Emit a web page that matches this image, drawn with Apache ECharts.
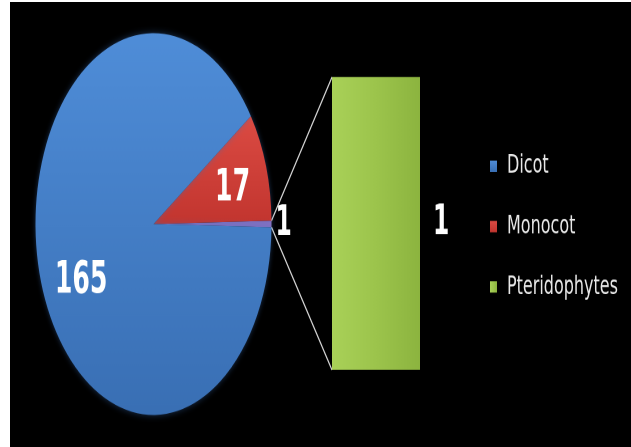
<!DOCTYPE html>
<html>
<head>
<meta charset="utf-8">
<script src="https://cdn.jsdelivr.net/npm/echarts@6/dist/echarts.min.js"></script>
<style>
  html, body { margin: 0; padding: 0; background: #fff; width: 631px; height: 447px; overflow: hidden; }
  #frame { position: absolute; left: 10px; top: 2px; width: 621px; height: 445px; background: #000; overflow: hidden; }
  /* the chart is laid out flat and then stretched vertically, giving the tall oval pie */
  #chart { position: absolute; left: 0; top: 0; width: 621px; height: 275px; transform: scaleY(1.618); transform-origin: 0 0; }
</style>
</head>
<body>
<div id="frame"><div id="chart"></div></div>
<script>
// plant groups and their species counts
const categories = ['Dicot', 'Monocot', 'Pteridophytes'];
const counts = [165, 17, 1];
// groups drawn as their own pie slices; the rest are pulled out into the bar
const pieGroups = ['Dicot', 'Monocot'];
const barGroups = ['Pteridophytes'];
const otherName = 'Other';

const valueOf = name => counts[categories.indexOf(name)];
const otherValue = barGroups.reduce((s, n) => s + valueOf(n), 0);
const total = counts.reduce((s, v) => s + v, 0);

const colors = {
  Dicot: { type: 'linear', x: 0, y: 0, x2: 0, y2: 1, colorStops: [
    { offset: 0, color: '#4f8dd8' }, { offset: 1, color: '#396fb4' } ] },
  Monocot: { type: 'linear', x: 0, y: 0, x2: 0, y2: 1, colorStops: [
    { offset: 0, color: '#db4b43' }, { offset: 1, color: '#c2352f' } ] },
  Other: '#8c70c4',
  Pteridophytes: { type: 'linear', x: 0, y: 0, x2: 1, y2: 0, colorStops: [
    { offset: 0, color: '#a9d158' }, { offset: 0.5, color: '#9cc44c' }, { offset: 1, color: '#8cb43f' } ] }
};

const numFont = "'DejaVu Sans Condensed', 'Liberation Sans', sans-serif";
const labelOffsets = { Dicot: [-13, 17], Monocot: [20, -3] };

// the pulled-out slice sits centred on 3 o'clock, the others follow counter-clockwise
const pieData = [{
  name: otherName, value: otherValue,
  itemStyle: { color: colors.Other },
  label: { position: 'outside', fontSize: 26, distanceToLabelLine: 4 },
  labelLine: { show: false, length: 0, length2: 0 }
}].concat(pieGroups.slice().reverse().map(n => ({
  name: n, value: valueOf(n),
  itemStyle: { color: colors[n] },
  label: { position: 'inside', fontSize: 28, offset: labelOffsets[n] }
})));

const barValues = barGroups.map(valueOf);

const chart = echarts.init(document.getElementById('chart'), null, { renderer: 'canvas', devicePixelRatio: 2 });

chart.setOption({
  animation: false,
  backgroundColor: 'transparent',
  legend: {
    data: categories,
    orient: 'vertical',
    left: 475, top: 88.5,
    itemWidth: 7, itemHeight: 7, itemGap: 21.3,
    icon: 'rect',
    selectedMode: false,
    textStyle: { color: '#e8e8e8', fontFamily: "'DejaVu Sans', sans-serif", fontSize: 16, lineHeight: 16, padding: [0, 0, 0, 5] }
  },
  grid: { left: 322, top: 46.4, width: 88, height: 181 },
  xAxis: { type: 'category', data: barGroups, show: false },
  yAxis: { type: 'value', min: 0, max: Math.max(...barValues), show: false },
  series: [{
    type: 'pie',
    name: 'Groups',
    center: [143.5, 137.2],
    radius: [0, 118],
    clockwise: false,
    startAngle: -(otherValue / total * 360) / 2,
    avoidLabelOverlap: false,
    label: { show: true, color: '#fff', fontFamily: numFont, fontWeight: 'bold', formatter: '{c}' },
    itemStyle: { shadowBlur: 5, shadowColor: 'rgba(60,110,180,0.45)' },
    emphasis: { disabled: true },
    data: pieData
  }, {
    type: 'bar',
    name: 'Pteridophytes',
    barWidth: '100%',
    itemStyle: { color: colors.Pteridophytes },
    label: { show: true, position: 'right', distance: 13, color: '#fff', fontFamily: numFont, fontWeight: 'bold', fontSize: 26 },
    emphasis: { disabled: true },
    data: barValues
  }]
});

// connector lines from the pulled-out slice to the bar's left corners
function drawConnectors() {
  const model = chart.getModel();
  const pd = model.getSeriesByIndex(0).getData();
  const sl = pd.getItemLayout(pd.indexOfName(otherName));
  const bl = model.getSeriesByIndex(1).getData().getItemLayout(0);
  const pts = [sl.startAngle, sl.endAngle].map(a => [sl.cx + sl.r * Math.cos(a), sl.cy + sl.r * Math.sin(a)]);
  pts.sort((p, q) => p[1] - q[1]);
  const barTop = Math.min(bl.y, bl.y + bl.height);
  const barBottom = Math.max(bl.y, bl.y + bl.height);
  const barLeft = Math.min(bl.x, bl.x + bl.width);
  const lineStyle = { stroke: '#d8d8d8', lineWidth: 1.1 };
  chart.setOption({
    graphic: [
      { type: 'line', z: 1, shape: { x1: pts[0][0], y1: pts[0][1], x2: barLeft, y2: barTop }, style: lineStyle, silent: true },
      { type: 'line', z: 1, shape: { x1: pts[1][0], y1: pts[1][1], x2: barLeft, y2: barBottom }, style: lineStyle, silent: true }
    ]
  });
}
drawConnectors();
</script>
</body>
</html>
